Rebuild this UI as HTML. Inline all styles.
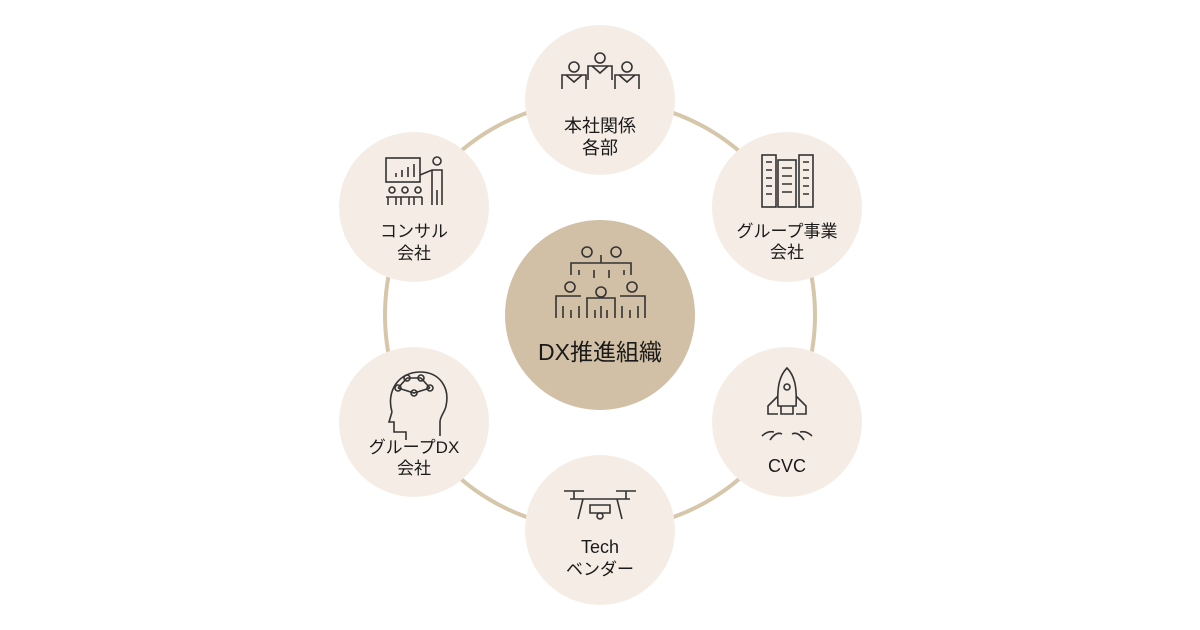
<!DOCTYPE html>
<html><head><meta charset="utf-8"><style>
html,body{margin:0;padding:0;background:#fff;}
svg{display:block}
text{font-family:"Liberation Sans","Noto Sans CJK JP",sans-serif;fill:#1a1a1a;text-anchor:middle}
.ic{fill:none;stroke:#333;stroke-width:1.6}
</style></head><body>
<svg width="1200" height="630" viewBox="0 0 1200 630" xmlns="http://www.w3.org/2000/svg">
<circle cx="600" cy="315" r="215" fill="none" stroke="#d6c6aa" stroke-width="4"/>
<g fill="#f5ede5">
<circle cx="600" cy="100" r="75"/>
<circle cx="787" cy="207" r="75"/>
<circle cx="787" cy="422" r="75"/>
<circle cx="600" cy="530" r="75"/>
<circle cx="414" cy="422" r="75"/>
<circle cx="414" cy="207" r="75"/>
</g>
<circle cx="600" cy="315" r="95" fill="#d1c0a5"/>
<g class="ic">
<circle cx="587" cy="252" r="5"/><circle cx="616" cy="252" r="5"/>
<path d="M571 275v-12h60v12M601 263v-8M579 270v5M594 270v8M609 270v8M624 270v5"/>
<circle cx="570" cy="287" r="5"/><circle cx="601" cy="292" r="5"/><circle cx="632" cy="287" r="5"/>
<path d="M556 318v-22h25M645 318v-22h-25M587 318v-20h28v20M563 306v12M571 310v8M579 306v12M595 310v8M601 306v12M607 310v8M622 306v12M630 310v8M638 306v12"/>
</g>
<text x="600" y="360" font-size="23">DX推進組織</text>
<g class="ic">
<circle cx="574" cy="67" r="5"/><circle cx="600" cy="58" r="5"/><circle cx="627" cy="67" r="5"/>
<path d="M562 89v-14h24v14M588 80v-14h24v14M615 89v-14h24v14M566 75l8 7 8-7M592 66l8 7 8-7M619 75l8 7 8-7"/>
</g>
<text x="600" y="132" font-size="18">本社関係</text>
<text x="600" y="154" font-size="18">各部</text>
<g class="ic">
<rect x="762" y="155" width="14" height="52"/><rect x="778" y="160" width="18" height="47"/><rect x="799" y="155" width="14" height="52"/>
<path d="M766 162h6M766 170h6M766 178h6M766 186h6M766 194h6M782 168h10M782 176h10M782 184h10M782 192h10M803 162h6M803 170h6M803 178h6M803 186h6M803 194h6"/>
</g>
<text x="787" y="237" font-size="17">グループ事業</text>
<text x="787" y="258" font-size="17">会社</text>
<g class="ic">
<path d="M787 368c-8 8-10 20-9 38h18c1-18-1-30-9-38zM778 396l-10 10v8h10M796 396l10 10v8h-10M781 406v8h12v-8"/>
<circle cx="787" cy="387" r="3"/>
<path d="M770 440c4-6 8-8 12-6M804 440c-4-6-8-8-12-6M762 436c4-4 8-5 12-4M812 436c-4-4-8-5-12-4"/>
</g>
<text x="787" y="472" font-size="18">CVC</text>
<g class="ic">
<path d="M564 491h20M616 491h20M574 491v8M626 491v8M570 499h60M583 499l-5 20M617 499l5 20M590 505h20v8h-20z"/>
<circle cx="600" cy="516" r="3"/>
</g>
<text x="600" y="553" font-size="18">Tech</text>
<text x="600" y="575" font-size="17">ベンダー</text>
<g class="ic">
<path d="M392 412c-6-20 6-40 28-40 20 0 30 16 26 34-1 6-6 10-6 16v14M392 412l-3 10h5v10h12v8"/>
<circle cx="407" cy="378" r="3"/><circle cx="421" cy="378" r="3"/><circle cx="398" cy="388" r="3"/><circle cx="430" cy="388" r="3"/><circle cx="414" cy="393" r="3"/>
<path d="M407 378h14M421 378l9 10M407 378l-9 10M398 388l16 5 16-5"/>
</g>
<text x="414" y="453" font-size="17">グループDX</text>
<text x="414" y="474" font-size="17">会社</text>
<g class="ic">
<rect x="386" y="158" width="34" height="24"/>
<path d="M396 177v-4M402 177v-7M408 177v-10M414 177v-13"/>
<circle cx="437" cy="161" r="4"/>
<path d="M420 175l12-5h10v35M432 170v35M437 190v15"/>
<circle cx="392" cy="190" r="3"/><circle cx="405" cy="190" r="3"/><circle cx="418" cy="190" r="3"/>
<path d="M386 197h36M388 197v8M396 197v8M401 197v8M409 197v8M414 197v8M422 197v8"/>
</g>
<text x="414" y="237" font-size="17">コンサル</text>
<text x="414" y="259" font-size="17">会社</text>
</svg>
</body></html>
